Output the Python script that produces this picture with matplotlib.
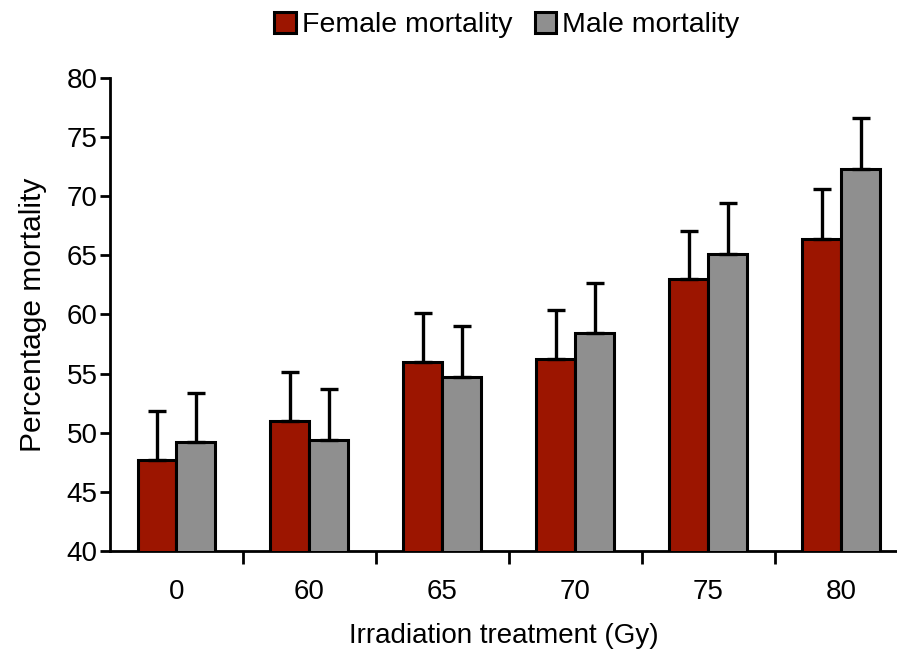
import matplotlib
matplotlib.use("Agg")
import matplotlib.pyplot as plt
import numpy as np
from matplotlib.ticker import FixedLocator

plt.rcParams['font.family'] = ['Liberation Sans', 'DejaVu Sans']

categories = ["0", "60", "65", "70", "75", "80"]
female = [47.7, 51.0, 56.0, 56.2, 63.0, 66.4]
female_err = [4.1, 4.1, 4.1, 4.2, 4.1, 4.2]
male = [49.2, 49.4, 54.7, 58.4, 65.1, 72.3]
male_err = [4.2, 4.3, 4.3, 4.3, 4.3, 4.3]

fig = plt.figure(figsize=(8.97, 6.57), dpi=100)
ax = fig.add_axes([110/897, 1 - 551/657, 1 - 110/897, (551 - 78)/657])

x = np.arange(len(categories))
w = 0.293
ekw = dict(elinewidth=2.4, capthick=2.4, ecolor='black')
ax.bar(x - w/2, female, w, color='#9C1500', edgecolor='black', linewidth=2.2,
       yerr=[np.zeros(len(female)), female_err], capsize=6.5, error_kw=ekw, label='Female mortality', zorder=3)
ax.bar(x + w/2, male, w, color='#8F8F8F', edgecolor='black', linewidth=2.2,
       yerr=[np.zeros(len(male)), male_err], capsize=6.5, error_kw=ekw, label='Male mortality', zorder=3)

ax.set_ylim(40, 80)
ax.set_xlim(-0.5, 5.42)
ax.set_yticks(np.arange(40, 81, 5))
ax.set_xticks(x)
ax.set_xticklabels(categories)
ax.xaxis.set_minor_locator(FixedLocator(np.arange(0.5, 5.5, 1.0)))
ax.tick_params(axis='x', which='major', length=0, labelsize=20, pad=20)
ax.tick_params(axis='x', which='minor', length=9, width=2, direction='out')
ax.tick_params(axis='y', length=7, width=2, labelsize=20, pad=2)

for s in ['top', 'right']:
    ax.spines[s].set_visible(False)
for s in ['left', 'bottom']:
    ax.spines[s].set_linewidth(2)

ax.set_ylabel('Percentage mortality', fontsize=21.5, labelpad=14)
ax.set_xlabel('Irradiation treatment (Gy)', fontsize=20, labelpad=13)

fig.legend(loc='upper center', bbox_to_anchor=(0.565, 1.008), ncol=2, frameon=False,
           fontsize=20.5, handlelength=0.75, handleheight=0.75, handletextpad=0.2, columnspacing=0.8,
           borderaxespad=0.2)

fig.savefig('out.png', dpi=100)
